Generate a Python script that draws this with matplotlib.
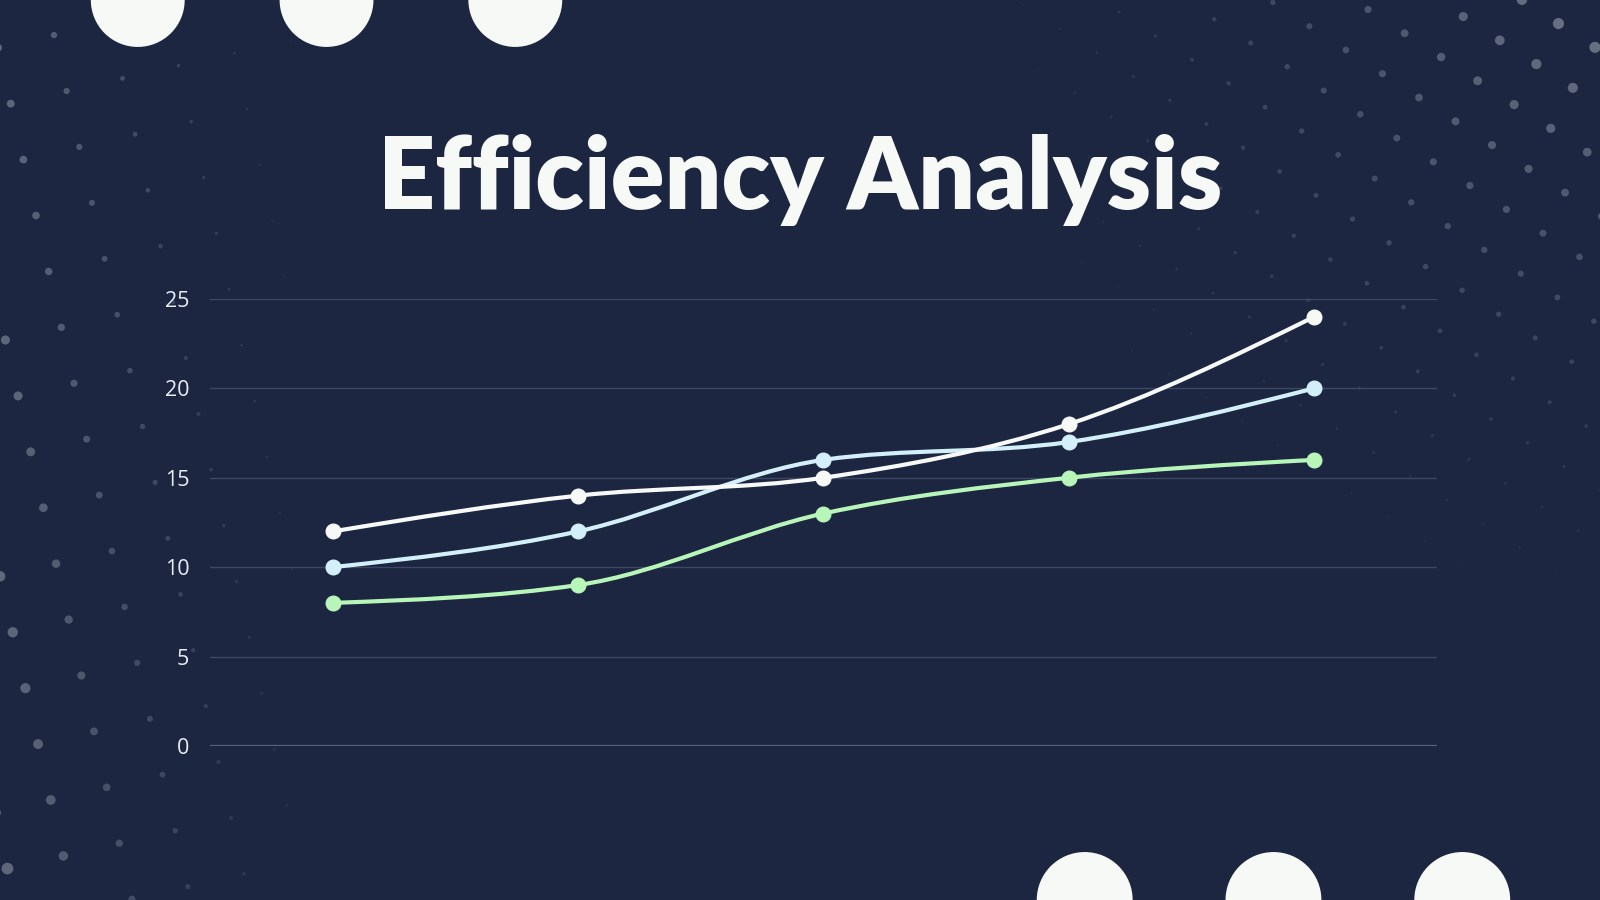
import numpy as np
import matplotlib
matplotlib.use("Agg")
import matplotlib.pyplot as plt
from matplotlib.path import Path
from matplotlib.patches import PathPatch, Circle

# ---------- data ----------
CATEGORIES = ["P1", "P2", "P3", "P4", "P5"]
SERIES_A = [12, 14, 15, 18, 24]   # white
SERIES_B = [10, 12, 16, 17, 20]   # light blue
SERIES_C = [8, 9, 13, 15, 16]     # green
Y_TICKS = [0, 5, 10, 15, 20, 25]

TITLE = "Efficiency Analysis"

BG = "#1c2640"
COL_A = "#f7f9f7"
COL_B = "#d3f0fa"
COL_C = "#b7f5b9"
GRID = "#3d4862"
ZERO = "#56617b"
TICK = "#e9ecf2"
DOT = "#a3aabb"
BIG = "#f7f9f6"

W, H = 1568, 882  # reference pixel frame for decoration


def monotone_path(xs, ys):
    # cubic bezier path using monotone-x tangents
    xs = np.asarray(xs, float)
    ys = np.asarray(ys, float)
    n = len(xs)
    h = np.diff(xs)
    s = np.diff(ys) / h
    t = np.zeros(n)
    for i in range(1, n - 1):
        p = (s[i - 1] * h[i] + s[i] * h[i - 1]) / (h[i - 1] + h[i])
        t[i] = (np.sign(s[i - 1]) + np.sign(s[i])) * min(abs(s[i - 1]), abs(s[i]), 0.5 * abs(p))
    t[0] = (3 * s[0] - t[1]) / 2
    t[-1] = (3 * s[-1] - t[-2]) / 2
    verts = [(xs[0], ys[0])]
    codes = [Path.MOVETO]
    for i in range(n - 1):
        dx = h[i] / 3
        verts += [(xs[i] + dx, ys[i] + dx * t[i]),
                  (xs[i + 1] - dx, ys[i + 1] - dx * t[i + 1]),
                  (xs[i + 1], ys[i + 1])]
        codes += [Path.CURVE4] * 3
    return Path(verts, codes)


def draw_background(fig):
    bg = fig.add_axes([0, 0, 1, 1], zorder=0)
    bg.set_xlim(0, W)
    bg.set_ylim(H, 0)
    bg.axis("off")
    bg.set_facecolor(BG)

    # speckle dots: left band (tilted grid)
    a = np.array([12.4, 54.8])
    b = np.array([54.8, -12.4])
    o = np.array([47.7, 266.0])
    for i in range(-8, 14):
        for j in range(-4, 10):
            x, y = o + i * a + j * b
            if x < -6 or x > 290 or y < -6 or y > H + 6:
                continue
            f = max(0.0, 1 - x / 290)
            r = (1.0 + 3.6 * f ** 1.3) * (0.8 + 0.5 * y / H)
            bg.add_patch(Circle((x, y), r, color=DOT, alpha=0.08 + 0.42 * f ** 1.2, lw=0))

    # speckle dots: top-right corner
    a = np.array([35.8, 23.3])
    b = np.array([-21.7, 39.7])
    o = np.array([1340.7, 9.3])
    for i in range(-20, 20):
        for j in range(-12, 16):
            x, y = o + i * a + j * b
            d = np.hypot(W - x, y)
            if d > 580 or x > W + 6 or y < -6 or x < 950:
                continue
            f = 1 - d / 580
            r = 1.0 + 5.0 * f ** 1.4
            bg.add_patch(Circle((x, y), r, color=DOT, alpha=0.06 + 0.55 * f ** 1.3, lw=0))

    # big half circles
    for cx in [135, 320, 505]:
        bg.add_patch(Circle((cx, 0), 46, color=BIG, lw=0))
    for cx in [1063, 1248, 1433]:
        bg.add_patch(Circle((cx, 882), 47, color=BIG, lw=0))


def main():
    fig = plt.figure(figsize=(16, 9), dpi=100)
    fig.patch.set_facecolor(BG)
    draw_background(fig)

    ax = fig.add_axes([206 / W, 1 - 731 / H, (1408 - 206) / W, (731 - 293) / H], zorder=2)
    ax.set_facecolor("none")

    x = np.arange(len(CATEGORIES))
    ax.set_xlim(-0.5, len(CATEGORIES) - 0.5)
    ax.set_ylim(0, 25)

    for yv in Y_TICKS[1:]:
        ax.axhline(yv, color=GRID, lw=1.0, zorder=1)
    ax.axhline(0, color=ZERO, lw=1.6, zorder=1)

    for vals, col, z in [(SERIES_C, COL_C, 3), (SERIES_B, COL_B, 4), (SERIES_A, COL_A, 5)]:
        ax.add_patch(PathPatch(monotone_path(x, vals), facecolor="none", edgecolor=col,
                               lw=3.0, capstyle="round", zorder=z))
        ax.plot(x, vals, linestyle="none", marker="o", ms=10.5, color=col, zorder=z + 0.5)

    ax.set_xticks([])
    ax.set_yticks(Y_TICKS)
    ax.set_yticklabels([str(v) for v in Y_TICKS], fontsize=15.5, color=TICK, family="Open Sans")
    ax.tick_params(axis="y", length=0, pad=15)
    for sp in ax.spines.values():
        sp.set_visible(False)

    fig.text(0.5, 1 - 205 / H, TITLE, ha="center", va="baseline", fontsize=72,
             fontweight="heavy", color=BIG, family="Lato")

    fig.savefig("out.png", dpi=100, facecolor=BG)
    plt.close(fig)


if __name__ == "__main__":
    main()
